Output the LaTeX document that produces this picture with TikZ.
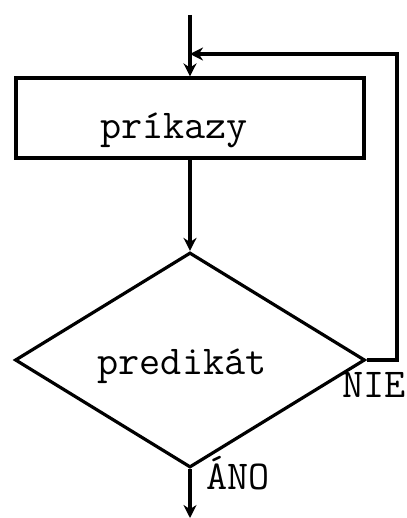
\documentclass[tikz,border=0pt]{standalone}
\usepackage{fontspec}
\usetikzlibrary{shapes.geometric,arrows.meta}
\begin{document}
\begin{tikzpicture}[x=1pt,y=-1pt,
  line width=3.2pt,
  arr/.style={-{Stealth[length=13pt,width=13pt]}},
  lbl/.style={font=\ttfamily\fontsize{41}{46}\selectfont, inner sep=0pt},
  box/.style={draw, rectangle, minimum width=348pt, minimum height=80pt, inner sep=0pt},
  dec/.style={draw, diamond, minimum width=350pt, minimum height=215pt, inner sep=0pt}]
\useasboundingbox (0,0) rectangle (406,518);
\coordinate (start) at (190,15);
\node[box] (cmd) at (190,118) {};
\node[lbl] (cmdtxt) at (174,130) {príkazy};
\node[lbl] (predtxt) at (182,366) {predikát};
\node[lbl, anchor=west] (nie) at (341,385) {NIE};
\node[lbl, anchor=west] (ano) at (205,473) {ÁNO};
\node[dec] (pred) at (190,360) {};
\coordinate (r1) at (397,360);
\coordinate (r2) at (397,54);
\coordinate (join) at (190,54);
\coordinate (exit) at (190,518);
\draw[arr] (start) -- (cmd.north);
\draw[arr] (cmd.south) -- (pred.north);
\draw[arr] (pred.east) -- (r1) -- (r2) -- (join);
\draw[arr] (pred.south) -- (exit);
\end{tikzpicture}
\end{document}
